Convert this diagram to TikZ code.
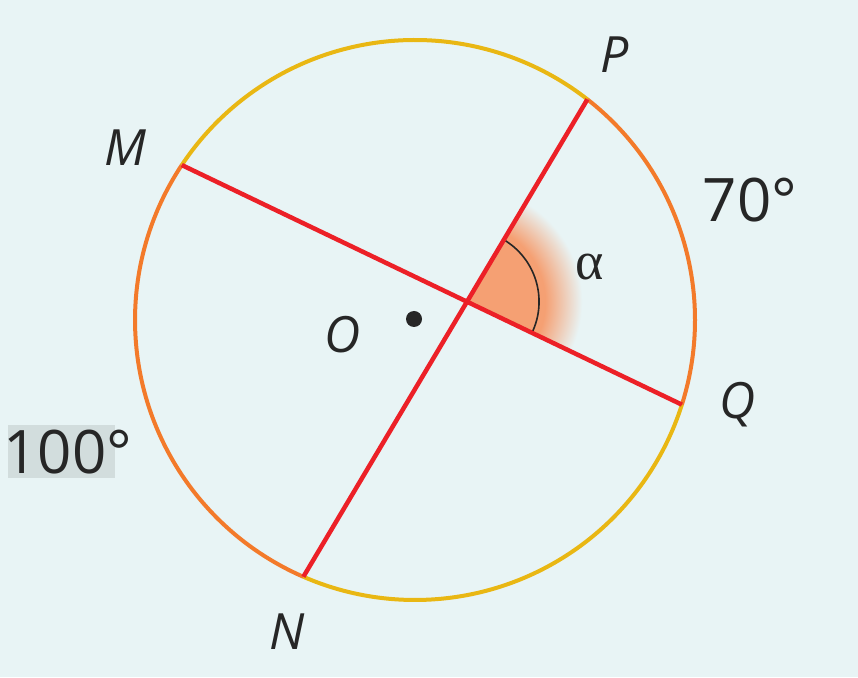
\documentclass[tikz,border=0pt]{standalone}
\usepackage{fontspec}
\setmainfont{Open Sans}
\newfontfamily\greekserif{Liberation Serif}
\usepackage{tikz}
\usepackage{xcolor}
\usetikzlibrary{calc}

\definecolor{bgcol}{HTML}{E8F4F5}
\definecolor{chordred}{HTML}{EC2027}
\definecolor{arcorange}{HTML}{F37A2A}
\definecolor{arcyellow}{HTML}{E9B713}
\definecolor{angorange}{HTML}{F5A073}
\definecolor{boxgrey}{HTML}{D2DDDD}

\pgfdeclareradialshading{anglefade}{\pgfpoint{0bp}{0bp}}{%
  color(0bp)=(angorange); color(17bp)=(angorange); color(25bp)=(bgcol); color(50bp)=(bgcol)}

\tikzset{
  lbl/.style={font=\fontsize{50}{50}\selectfont\itshape, text=black!85},
  deg/.style={font=\fontsize{60}{60}\selectfont, text=black!85},
}

\begin{document}
\begin{tikzpicture}[x=1pt, y=1pt]

    % Background
    \fill[bgcol] (0,0) rectangle (858,677);
    \useasboundingbox (0,0) rectangle (858,677);

    % Points on the circle
    \coordinate (C) at (415,357);
    \coordinate (P) at ($(C)+(52:280)$);
    \coordinate (M) at ($(C)+(146.4:280)$);
    \coordinate (N) at ($(C)+(246.5:280)$);
    \coordinate (Q) at ($(C)+(-17.6:280)$);
    \coordinate (X) at (intersection of M--Q and N--P);

    % Shaded angle
    \begin{scope}
      \clip (X) -- ++(-25.6:200) arc[start angle=-25.6, end angle=59.25, radius=200] -- cycle;
      \shade[shading=anglefade] (X) circle (115);
    \end{scope}
    \draw[line width=1.6pt, black!85] ($(X)+(-25.6:72)$) arc[start angle=-25.6, end angle=59.25, radius=72];

    % Circle arcs
    \draw[arcyellow, line width=4pt] (P) arc[start angle=52, end angle=146.4, radius=280];
    \draw[arcorange, line width=4pt] (M) arc[start angle=146.4, end angle=246.5, radius=280];
    \draw[arcyellow, line width=4pt] (N) arc[start angle=246.5, end angle=342.4, radius=280];
    \draw[arcorange, line width=4pt] (Q) arc[start angle=-17.6, end angle=52, radius=280];

    % Chords
    \draw[chordred, line width=4.5pt] (M) -- (Q);
    \draw[chordred, line width=4.5pt] (N) -- (P);

    % Centre
    \fill[black!85] (414,358) circle (8);

    % Labels
    \node[lbl] (lM) at (125,529) {M};
    \node[lbl] (lP) at (615,622) {P};
    \node[lbl] (lQ) at (738,272) {Q};
    \node[lbl] (lN) at (287,45) {N};
    \node[lbl] (lO) at (343,342) {O};
    \node[font=\fontsize{54}{54}\greekserif, text=black!85] (lalpha) at (590,410) {α};
    \node[deg] (l70) at (750,477) {70°};

    % Grey box behind 100
    \fill[boxgrey] (8,199) rectangle (115,252);
    \node[deg, anchor=west] (l100) at (0,225) {100°};

\end{tikzpicture}
\end{document}
